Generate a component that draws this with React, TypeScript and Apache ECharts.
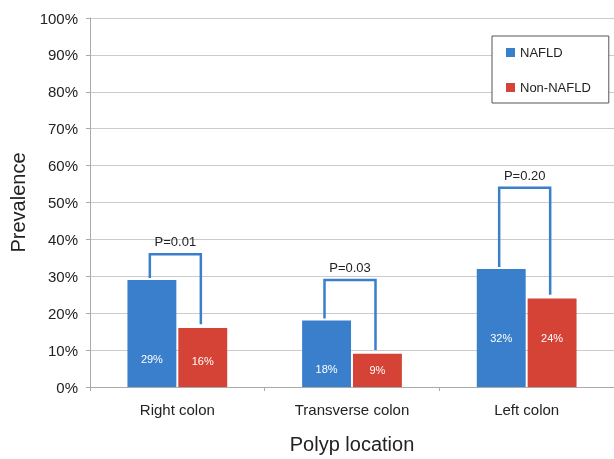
import React, { useEffect, useRef } from "react";
import * as echarts from "echarts";

const categories = ["Right colon", "Transverse colon", "Left colon"];
const nafld = [29, 18, 32];
const nonNafld = [16, 9, 24];
const bracketLevel = [36, 29, 54];
const pLabels = ["P=0.01", "P=0.03", "P=0.20"];
const yTicks = [0, 10, 20, 30, 40, 50, 60, 70, 80, 90, 100];

// label lift from bar bottom (styling only)
const nafldLabelLift = [23, 13, 44];
const nonLabelLift = [21, 12, 44];

const BLUE = "#3a7fcb";
const RED = "#d44335";
const FONT = "'Liberation Sans', Arial, Helvetica, sans-serif";

export default function App() {
  const ref = useRef<HTMLDivElement>(null);
  useEffect(() => {
    if (!ref.current) return;
    const chart = echarts.init(ref.current, undefined, { renderer: "svg" });
    const bracketData = categories.map((_, i) => [i, nafld[i], nonNafld[i], bracketLevel[i]]);
    chart.setOption({
      animation: false,
      textStyle: { fontFamily: FONT },
      grid: { left: 89, width: 526, top: 18, height: 372 },
      legend: {
        data: ["NAFLD", "Non-NAFLD"],
        orient: "vertical",
        left: 492,
        top: 36,
        icon: "rect",
        itemWidth: 9,
        itemHeight: 9,
        itemGap: 22,
        padding: [10, 18, 9, 14],
        borderColor: "#555",
        borderWidth: 1,
        backgroundColor: "#fff",
        textStyle: { fontSize: 13, color: "#222", fontFamily: FONT },
      },
      xAxis: {
        type: "category",
        data: categories,
        axisLine: { lineStyle: { color: "#aaa" } },
        axisTick: { show: true, length: 4, lineStyle: { color: "#aaa" } },
        axisLabel: { fontSize: 15, color: "#222", margin: 15, fontFamily: FONT },
        name: "Polyp location",
        nameLocation: "middle",
        nameGap: 47,
        nameTextStyle: { fontSize: 20, color: "#222", fontFamily: FONT },
      },
      yAxis: {
        type: "value",
        min: 0,
        max: 100,
        interval: 10,
        axisLine: { show: true, lineStyle: { color: "#aaa" } },
        axisTick: { show: true, length: 4, lineStyle: { color: "#aaa" } },
        axisLabel: {
          fontSize: 15,
          color: "#222",
          margin: 12,
          fontFamily: FONT,
          formatter: (v: number) => (yTicks.includes(v) ? v + "%" : ""),
        },
        splitLine: { lineStyle: { color: "#cbcbcb" } },
        name: "Prevalence",
        nameLocation: "middle",
        nameGap: 62,
        nameTextStyle: { fontSize: 20, color: "#222", fontFamily: FONT },
      },
      series: [
        {
          name: "NAFLD",
          type: "bar",
          barWidth: "28%",
          barGap: "4%",
          itemStyle: { color: BLUE },
          data: nafld.map((v, i) => ({
            value: v,
            label: {
              show: true,
              position: "insideBottom",
              distance: nafldLabelLift[i],
              formatter: "{c}%",
              color: "#fff",
              fontSize: 11,
              fontFamily: FONT,
            },
          })),
        },
        {
          name: "Non-NAFLD",
          type: "bar",
          barWidth: "28%",
          itemStyle: { color: RED },
          data: nonNafld.map((v, i) => ({
            value: v,
            label: {
              show: true,
              position: "insideBottom",
              distance: nonLabelLift[i],
              formatter: "{c}%",
              color: "#fff",
              fontSize: 11,
              fontFamily: FONT,
            },
          })),
        },
        {
          name: "brackets",
          type: "custom",
          silent: true,
          z: 5,
          data: bracketData,
          renderItem: (params: any, api: any) => {
            const ci = api.value(0);
            const a = api.value(1);
            const b = api.value(2);
            const lvl = api.value(3);
            const cx = api.coord([ci, 0])[0];
            const band = api.size([1, 0])[0];
            const half = band * 0.146;
            const xl = cx - half - 2;
            const xr = cx + half - 2;
            const ya = api.coord([ci, a])[1] - 2;
            const yb = api.coord([ci, b + 1])[1];
            const yl = api.coord([ci, lvl])[1];
            return {
              type: "group",
              children: [
                {
                  type: "polyline",
                  shape: { points: [[xl, ya], [xl, yl], [xr, yl], [xr, yb]] },
                  style: { stroke: BLUE, lineWidth: 2.5, fill: "none" },
                },
                {
                  type: "text",
                  x: (xl + xr) / 2,
                  y: yl - 6,
                  style: {
                    text: pLabels[params.dataIndex],
                    fontSize: 13,
                    fontFamily: FONT,
                    fill: "#222",
                    align: "center",
                    verticalAlign: "bottom",
                  },
                },
              ],
            };
          },
        },
      ],
    });
    return () => chart.dispose();
  }, []);
  return (
    <div
      ref={ref}
      style={{ position: "fixed", left: 0, top: 0, width: 614, height: 459 }}
    />
  );
}
